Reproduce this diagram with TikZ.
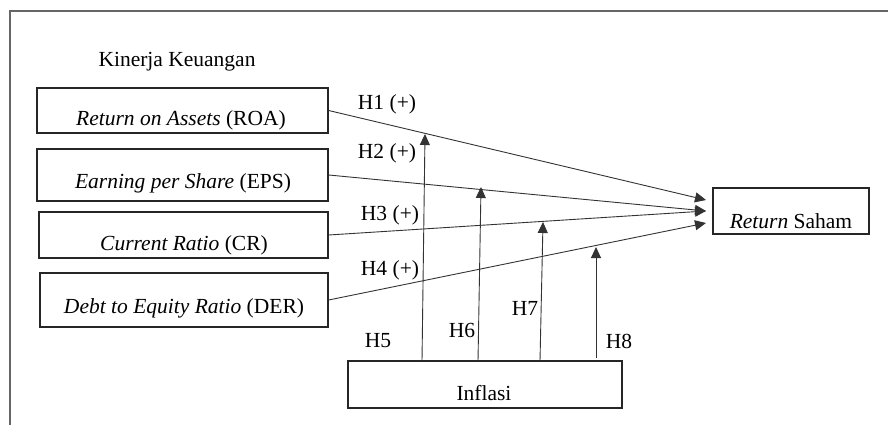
\documentclass[tikz,border=0pt]{standalone}
\usepackage{fontspec}
\setmainfont{Liberation Serif}
\usetikzlibrary{arrows.meta}
\begin{document}
\begin{tikzpicture}[x=1pt,y=-1pt,
  box/.style={draw=black!85, line width=1.3pt, rectangle, inner sep=0pt},
  txt/.style={anchor=base, inner sep=0pt, font=\fontsize{21.5}{25}\selectfont},
  lbl/.style={anchor=base, inner sep=0pt, font=\fontsize{21.5}{25}\selectfont},
  arr/.style={draw=black!80, line width=0.9pt, -{Triangle[length=11pt,width=10pt]}}]
\useasboundingbox (0,0) rectangle (888,425);
% frame
\draw[black!60, line width=1.1pt] (10,425) -- (10,11) -- (888,11);
% title
\node[txt] (title) at (177,67) {Kinerja Keuangan};
% boxes
\node[box, minimum width=291pt, minimum height=45pt] (roa) at (182.5,110.5) {};
\node[txt] (roat) at (181,125) {\textit{Return on Assets} (ROA)};
\node[box, minimum width=291pt, minimum height=52pt] (eps) at (182.5,175) {};
\node[txt] (epst) at (183,188) {\textit{Earning per Share} (EPS)};
\node[box, minimum width=289pt, minimum height=46pt] (cr) at (183.5,235) {};
\node[txt] (crt) at (184,250) {\textit{Current Ratio} (CR)};
\node[box, minimum width=288pt, minimum height=54pt] (der) at (184,300) {};
\node[txt] (dert) at (184,313) {\textit{Debt to Equity Ratio} (DER)};
\node[box, minimum width=156pt, minimum height=46pt] (rs) at (791,211) {};
\node[txt] (rst) at (791,228) {\textit{Return} Saham};
\node[box, minimum width=274pt, minimum height=47pt] (inf) at (485,384.5) {};
\node[txt] (inft) at (484,400) {Inflasi};
% arrow ends
\coordinate (e1) at (706,200);
\coordinate (e2) at (706,211);
\coordinate (e3) at (706,211);
\coordinate (e4) at (706,223);
\draw[arr] (roa.east) -- (e1);
\draw[arr] (eps.east) -- (e2);
\draw[arr] (cr.east) -- (e3);
\draw[arr] (der.east) -- (e4);
% moderating arrows
\coordinate (b5) at (422,361);
\coordinate (t5) at (425,134);
\coordinate (b6) at (478,361);
\coordinate (t6) at (481,187);
\coordinate (b7) at (540,361);
\coordinate (t7) at (543,222);
\coordinate (b8) at (596,358);
\coordinate (t8) at (596,247);
\draw[arr] (b5) -- (t5);
\draw[arr] (b6) -- (t6);
\draw[arr] (b7) -- (t7);
\draw[arr] (b8) -- (t8);
% labels
\node[lbl] (h1) at (387,110) {H1 (+)};
\node[lbl] (h2) at (387,158) {H2 (+)};
\node[lbl] (h3) at (390,220) {H3 (+)};
\node[lbl] (h4) at (390,275) {H4 (+)};
\node[lbl] (h5) at (378,347) {H5};
\node[lbl] (h6) at (462,337) {H6};
\node[lbl] (h7) at (525,315) {H7};
\node[lbl] (h8) at (619,348) {H8};
\end{tikzpicture}
\end{document}
